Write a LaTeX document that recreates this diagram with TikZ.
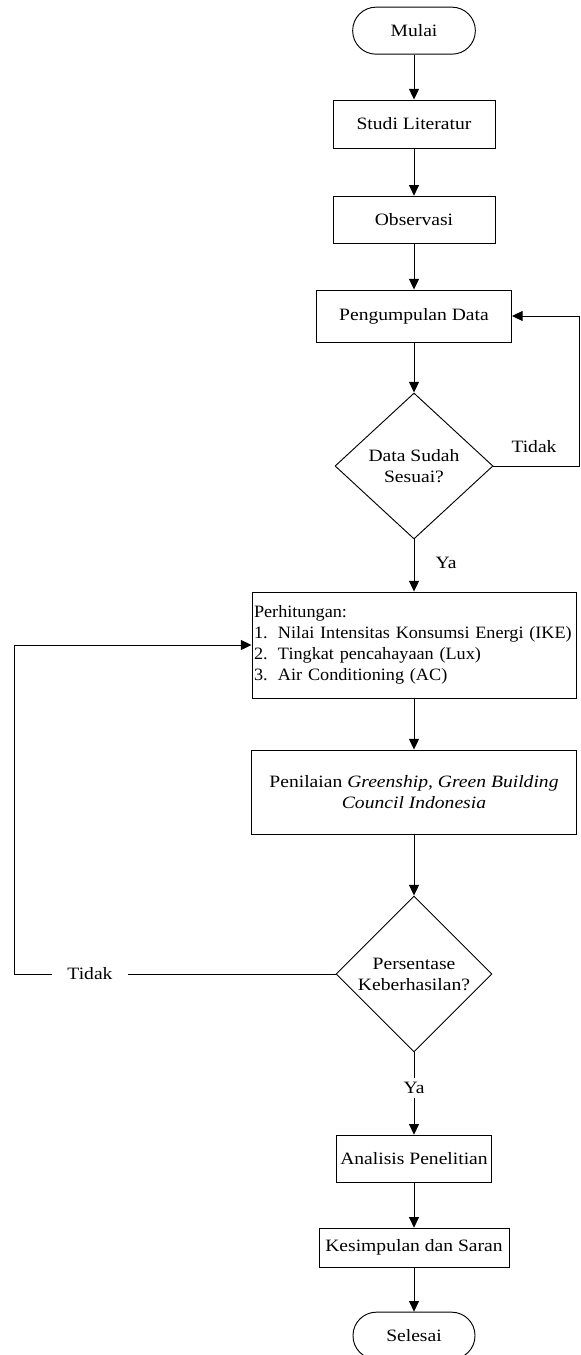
\documentclass[tikz,border=0pt]{standalone}
\usepackage{fontspec}
\setmainfont[FakeStretch=1.13]{Liberation Serif}
\newfontfamily\listfont[FakeStretch=1.05]{Liberation Serif}
\usetikzlibrary{shapes.geometric,arrows.meta}

\begin{document}
\begin{tikzpicture}[font=\fontsize{14.8}{17.9}\selectfont,line width=0.8pt,
	terminal/.style={rectangle,rounded corners=0.7cm,draw,minimum width=3.68cm,minimum height=1.41cm},
	process/.style={rectangle,draw,minimum height=1.41cm},
	decision/.style={diamond,draw,align=center,inner sep=0pt},
	flow/.style={-{Triangle[length=0.32cm,width=0.3cm]}}]
	\useasboundingbox (0,0) rectangle (17.4,-40.65);
	\node (mulai) at (12.42,-0.92) [terminal] {Mulai};
	\node (studi) at (12.42,-3.72) [process,minimum width=4.86cm,minimum height=1.44cm] {Studi Literatur};
	\node (obs) at (12.42,-6.59) [process,minimum width=4.86cm] {Observasi};
	\node (kumpul) at (12.42,-9.48) [process,minimum width=5.85cm,minimum height=1.56cm] {Pengumpulan Data};
	\node (sesuai) at (12.42,-13.98) [decision,minimum width=4.74cm,minimum height=4.38cm] {Data Sudah\\Sesuai?};
	\node (tidak1) at (16.02,-13.41) {Tidak};
	\node (ya1) at (13.38,-16.89) {Ya};
	\coordinate (kanan) at (17.37,-13.98);
	
	\node (hitung) at (12.42,-19.35) [process,minimum width=9.72cm,minimum height=3.18cm,text width=9.6cm,inner xsep=0.06cm,align=left,font=\fontsize{14.8}{17.9}\listfont] {Perhitungan:\\
		\mbox{\makebox[0.72cm][l]{1.}Nilai Intensitas Konsumsi Energi (IKE)}\\
		\makebox[0.72cm][l]{2.}Tingkat pencahayaan (Lux)\\
		\makebox[0.72cm][l]{3.}Air Conditioning (AC)};
	\node (nilai) at (12.42,-23.76) [process,minimum width=9.75cm,minimum height=2.52cm,align=center] {Penilaian \textit{Greenship, Green Building}\\\textit{Council Indonesia}};
	\node (persen) at (12.42,-29.22) [decision,minimum width=4.68cm,minimum height=4.68cm] {Persentase\\Keberhasilan?};
	\node (tidak2) at (2.7,-29.22) [inner xsep=0.45cm] {Tidak};
	\coordinate (kiri) at (0.42,-29.22);
	
	\node (analisis) at (12.42,-34.76) [process,minimum width=4.65cm] {Analisis Penelitian};
	\node (simpul) at (12.42,-37.43) [process,minimum width=5.7cm,minimum height=1.17cm] {Kesimpulan dan Saran};
	\node (selesai) at (12.42,-40.07) [terminal,minimum width=3.66cm] {Selesai};
	
	\draw[flow] (mulai) -- (studi);
	\draw[flow] (studi) -- (obs);
	\draw[flow] (obs) -- (kumpul);
	\draw[flow] (kumpul) -- (sesuai);
	\draw[flow] (sesuai.east) -- (kanan) |- (kumpul.east);
	\draw[flow] (sesuai) -- (hitung);
	\draw[flow] (hitung) -- (nilai);
	\draw[flow] (nilai) -- (persen);
	\draw (persen.west) -- (tidak2.east);
	\draw[flow] (tidak2.west) -- (kiri) |- (hitung.west);
	\draw[flow] (persen) -- (analisis) node[pos=0.43,fill=white,inner xsep=0pt] (ya2) {Ya};
	\draw[flow] (analisis) -- (simpul);
	\draw[flow] (simpul) -- (selesai);
\end{tikzpicture}
\end{document}
